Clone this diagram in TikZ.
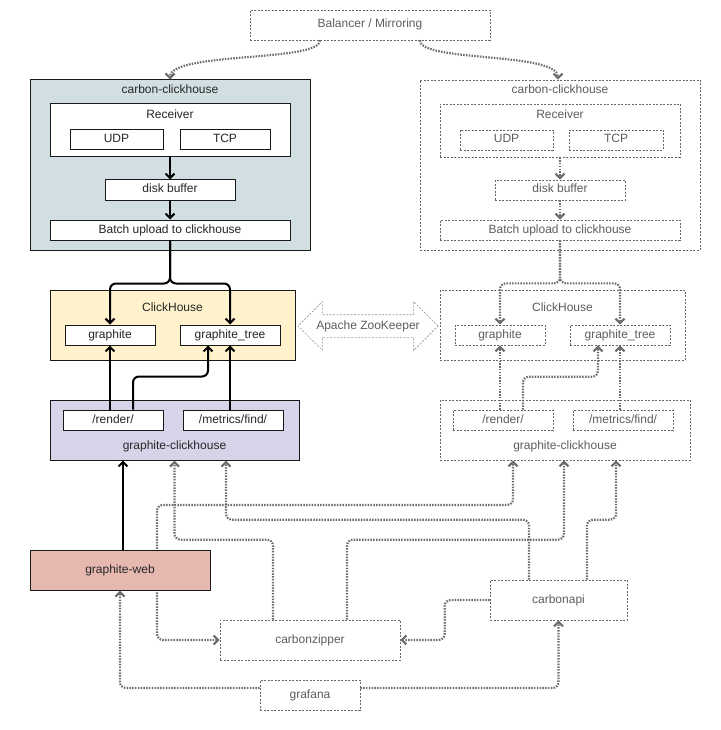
\documentclass[tikz,border=0pt]{standalone}
\usepackage{fontspec}
\setmainfont{Liberation Sans}
\usetikzlibrary{arrows.meta,shapes.arrows}

\definecolor{carbonfill}{HTML}{D1DFE3}
\definecolor{chfill}{HTML}{FFF2CC}
\definecolor{gchfill}{HTML}{D9D3E9}
\definecolor{webfill}{HTML}{E6B8AF}
\definecolor{ghostline}{HTML}{666666}
\definecolor{ghosttext}{HTML}{5E5E5E}
\definecolor{ghostflowc}{HTML}{6C6C6C}

\tikzset{
  every node/.style={font=\fontsize{12}{14}\selectfont, inner sep=0pt,
    text height=8.6pt, text depth=2.6pt},
  box/.style={draw=black!90, line width=1pt, text=black!85, fill=white},
  ghost/.style={draw=ghostline, line width=0.7pt, dash pattern=on 2pt off 1.5pt,
    text=ghosttext, fill=white},
  title/.style={text=black!85},
  ghosttitle/.style={text=ghosttext},
  >={Straight Barb[length=4.5pt,width=9pt]},
  flow/.style={line width=2pt, ->, rounded corners=6pt},
  ghostflow/.style={draw=ghostflowc, line width=2.2pt, dash pattern=on 1.5pt off 1.3pt,
    ->, rounded corners=6pt},
}

\begin{document}
\begin{tikzpicture}[x=1pt,y=-1pt]
\useasboundingbox (0,0) rectangle (720,730);

% balancer
\node[ghost, minimum width=240, minimum height=30] (bal) at (370,25) {Balancer / Mirroring};

% left: carbon-clickhouse
\node[box, fill=carbonfill, minimum width=280, minimum height=170,
  label={[title, yshift=-16.6pt]north:carbon-clickhouse}] (ccL) at (170,165) {};
\node[box, minimum width=240, minimum height=53,
  label={[title, yshift=-17.6pt]north:Receiver}] (recL) at (170,130.5) {};
\node[box, minimum width=93, minimum height=20] (udpL) at (116.5,140) {UDP};
\node[box, minimum width=90, minimum height=20] (tcpL) at (225,140) {TCP};
\node[box, minimum width=130, minimum height=20] (diskL) at (170,190) {disk buffer};
\node[box, minimum width=240, minimum height=20] (batchL) at (170,230) {Batch upload to clickhouse};

% left: clickhouse
\node[box, fill=chfill, minimum width=245, minimum height=70,
  label={[title, yshift=-24.3pt]north:ClickHouse}] (chL) at (172.5,325) {};
\node[box, minimum width=90, minimum height=20] (gL) at (110,335) {graphite};
\node[box, minimum width=100, minimum height=20] (gtL) at (230,335) {graphite\_tree};

% left: graphite-clickhouse
\node[box, fill=gchfill, minimum width=249, minimum height=60,
  label={[title, yshift=19.6pt]south:graphite-clickhouse}] (gchL) at (174.5,430) {};
\node[box, minimum width=100, minimum height=20] (renL) at (113,420) {/render/};
\node[box, minimum width=100, minimum height=20] (mfL) at (233,420) {/metrics/find/};

\draw[flow] (recL) -- (diskL);
\draw[flow] (diskL) -- (batchL);
\draw[flow] (batchL.south) -- ++(0,43) -| (gL.north);
\draw[flow] (batchL.south) -- ++(0,43) -| (gtL.north);
\draw[flow] (renL.north -| gL.south) -- (gL.south);
\draw[flow] ([xshift=20pt]renL.north) -- ++(0,-33) -| ([xshift=-22pt]gtL.south);
\draw[flow] (mfL.north -| gtL.south) -- (gtL.south);

% right: carbon-clickhouse (mirror)
\node[ghost, minimum width=280, minimum height=170,
  label={[ghosttitle, yshift=-16.6pt]north:carbon-clickhouse}] (ccR) at (560,165) {};
\node[ghost, minimum width=240, minimum height=53,
  label={[ghosttitle, yshift=-17.6pt]north:Receiver}] (recR) at (560,130.5) {};
\node[ghost, minimum width=93, minimum height=20] (udpR) at (506.5,140) {UDP};
\node[ghost, minimum width=94, minimum height=20] (tcpR) at (616,140) {TCP};
\node[ghost, minimum width=130, minimum height=20] (diskR) at (560,190) {disk buffer};
\node[ghost, minimum width=240, minimum height=20] (batchR) at (560,230) {Batch upload to clickhouse};

% right: clickhouse
\node[ghost, minimum width=245, minimum height=70,
  label={[ghosttitle, yshift=-24.3pt]north:ClickHouse}] (chR) at (562.5,325) {};
\node[ghost, minimum width=90, minimum height=20] (gR) at (500,335) {graphite};
\node[ghost, minimum width=100, minimum height=20] (gtR) at (620,335) {graphite\_tree};

% right: graphite-clickhouse
\node[ghost, minimum width=250, minimum height=60,
  label={[ghosttitle, yshift=19.6pt]south:graphite-clickhouse}] (gchR) at (565,430) {};
\node[ghost, minimum width=100, minimum height=20] (renR) at (503,420) {/render/};
\node[ghost, minimum width=100, minimum height=20] (mfR) at (623,420) {/metrics/find/};

\draw[ghostflow] (recR) -- (diskR);
\draw[ghostflow] (diskR) -- (batchR);
\draw[ghostflow] (batchR.south) -- ++(0,43) -| (gR.north);
\draw[ghostflow] (batchR.south) -- ++(0,43) -| (gtR.north);
\draw[ghostflow] (renR.north -| gR.south) -- (gR.south);
\draw[ghostflow] ([xshift=20pt]renR.north) -- ++(0,-33) -| ([xshift=-22pt]gtR.south);
\draw[ghostflow] (mfR.north -| gtR.south) -- (gtR.south);

% balancer feeds both
\draw[ghostflow] ([xshift=-50pt]bal.south) .. controls +(0,22) and +(0,-28) .. (ccL.north);
\draw[ghostflow] ([xshift=50pt]bal.south) .. controls +(0,22) and +(0,-28) .. ([xshift=-2pt]ccR.north);

% zookeeper between the clickhouses
\node[ghost, draw=ghostline!70, double arrow, double arrow head extend=13pt,
  minimum height=140pt, minimum width=48pt, inner xsep=-5pt, inner ysep=5.4pt]
  (zk) at (368,326) {Apache ZooKeeper};

% frontends
\node[ghost, minimum width=180, minimum height=40] (zip) at (310,640) {carbonzipper};
\node[ghost, minimum width=137, minimum height=40] (api) at (558.5,600) {carbonapi};
\node[ghost, minimum width=100, minimum height=30] (graf) at (310,695) {grafana};

\draw[ghostflow, <->] (zip.west) -| (157,505) -| ([xshift=-52pt]gchR.south);
\draw[ghostflow] ([xshift=-37pt]zip.north) -- ++(0,-80) -| (gchL.south);
\draw[ghostflow] ([xshift=37pt]zip.north) -- ++(0,-80) -| ([xshift=-1pt]gchR.south);
\draw[ghostflow] ([xshift=-29.5pt]api.north) -- ++(0,-60) -| ([xshift=51.5pt]gchL.south);
\draw[ghostflow] ([xshift=28.5pt]api.north) -- ++(0,-60) -| ([xshift=51pt]gchR.south);
\draw[ghostflow] (api.west) -- ++(-45,0) |- (zip.east);
\draw[ghostflow] ([yshift=7pt]graf.east) -| (api.south);

% graphite-web
\node[box, fill=webfill, minimum width=180, minimum height=40] (webL) at (120,570) {graphite-web};
\draw[ghostflow] ([yshift=7pt]graf.west) -| (webL.south);
\draw[flow] ([xshift=3pt]webL.north) -- ([xshift=3pt]webL.north |- gchL.south);
\end{tikzpicture}
\end{document}
